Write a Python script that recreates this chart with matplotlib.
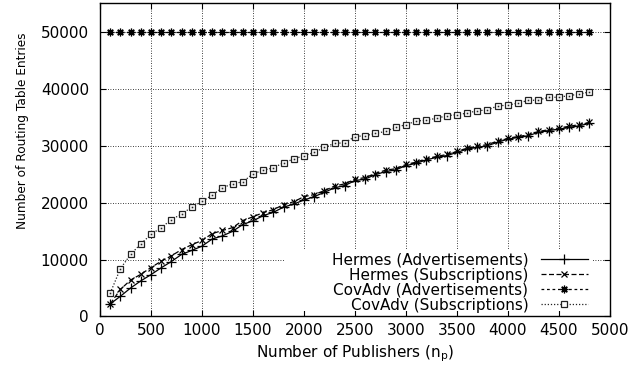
import matplotlib
matplotlib.use("Agg")
from matplotlib import pyplot as plt
from matplotlib.patches import Rectangle

plt.rcParams['font.family'] = ['DejaVu Sans']

n_publishers = [
    100, 200, 300, 400, 500, 600, 700, 800, 900, 1000, 1100, 1200,
    1300, 1400, 1500, 1600, 1700, 1800, 1900, 2000, 2100, 2200, 2300, 2400,
    2500, 2600, 2700, 2800, 2900, 3000, 3100, 3200, 3300, 3400, 3500, 3600,
    3700, 3800, 3900, 4000, 4100, 4200, 4300, 4400, 4500, 4600, 4700, 4800,
]
hermes_adv = [
    2200, 3550, 5000, 6250, 7350, 8550, 9650, 10900, 11600, 12350, 13600, 14150,
    14950, 16150, 16800, 17700, 18300, 19200, 19750, 20450, 21050, 21800, 22600, 23000,
    23850, 24150, 24900, 25450, 25750, 26500, 26900, 27500, 27950, 28250, 28800, 29400,
    29700, 30000, 30600, 31150, 31450, 31750, 32350, 32650, 32900, 33200, 33500, 33900,
]
hermes_sub = [
    2200, 4750, 6400, 7400, 8600, 9700, 10650, 11750, 12600, 13350, 14550, 15100,
    15600, 16850, 17500, 18250, 18750, 19650, 20150, 21050, 21400, 22100, 22900, 23300,
    24100, 24400, 25100, 25700, 25950, 26700, 27100, 27700, 28100, 28450, 29000, 29550,
    29900, 30200, 30800, 31300, 31600, 31900, 32500, 32800, 33100, 33400, 33700, 34100,
]
covadv_adv = [
    50000, 50000, 50000, 50000, 50000, 50000, 50000, 50000, 50000, 50000, 50000, 50000,
    50000, 50000, 50000, 50000, 50000, 50000, 50000, 50000, 50000, 50000, 50000, 50000,
    50000, 50000, 50000, 50000, 50000, 50000, 50000, 50000, 50000, 50000, 50000, 50000,
    50000, 50000, 50000, 50000, 50000, 50000, 50000, 50000, 50000, 50000, 50000, 50000,
]
covadv_sub = [
    4100, 8400, 10900, 12750, 14400, 15600, 17000, 18000, 19200, 20200, 21300, 22600,
    23300, 23650, 25050, 25700, 26100, 27000, 27650, 28250, 28800, 29700, 30400, 30500,
    31600, 31750, 32150, 32500, 33200, 33700, 34300, 34500, 34800, 35250, 35450, 35700,
    36150, 36250, 37000, 37100, 37500, 37950, 38000, 38500, 38500, 38800, 39050, 39450,
]
x_ticks = [0, 500, 1000, 1500, 2000, 2500, 3000, 3500, 4000, 4500, 5000]
y_ticks = [0, 10000, 20000, 30000, 40000, 50000]

fig = plt.figure(figsize=(6.31, 3.71), dpi=100)
ax = fig.add_axes([0.1585, 0.147, 0.808, 0.844])

asterisk = (8, 2, 0)
ax.plot(n_publishers, hermes_adv, color='black', lw=0.9, ls='-',
        marker='+', ms=6.5, mew=0.9, label='Hermes (Advertisements)', zorder=3)
ax.plot(n_publishers, hermes_sub, color='black', lw=0.9, ls=(0, (4, 2)),
        marker='x', ms=4.5, mew=0.9, label='Hermes (Subscriptions)', zorder=3)
ax.plot(n_publishers, covadv_adv, color='black', lw=0.9, ls=(0, (2.2, 2.2)),
        marker=asterisk, ms=5.5, mew=0.9, label='CovAdv (Advertisements)', zorder=3)
ax.plot(n_publishers, covadv_sub, color='#222222', lw=0.9, ls=(0, (1, 1.5)),
        marker='s', ms=5, mew=0.9, mfc='white', label='CovAdv (Subscriptions)', zorder=3)
# small dot in the centre of each box
ax.plot(n_publishers, covadv_sub, ls='none', marker='s', ms=1.2, mew=0,
        color='#222222', zorder=4)

ax.set_xlim(0, 5000)
ax.set_ylim(0, 55000)
ax.set_xticks(x_ticks)
ax.set_yticks(y_ticks)
ax.tick_params(direction='in', length=4, width=0.8, top=True, right=True,
               labelsize=11, pad=5)
ax.tick_params(axis='y', pad=8)
ax.set_axisbelow(True)
ax.grid(True, color='black', lw=0.6, ls=(0, (1, 2)))
for spine in ax.spines.values():
    spine.set_linewidth(1.0)

ax.set_xlabel('Number of Publishers (n$_\\mathregular{p}$)', fontsize=11)
ax.xaxis.set_label_coords(0.5, -0.085)
ax.set_ylabel('Number of Routing Table Entries', fontsize=8.7)
ax.yaxis.set_label_coords(-0.14, 0.592)

# white area behind the key hides the grid
ax.add_patch(Rectangle((0.36, 0.017), 0.607, 0.2, transform=ax.transAxes,
                       facecolor='white', edgecolor='none', zorder=1))
leg = ax.legend(loc='lower right', bbox_to_anchor=(0.957, 0.012), markerfirst=False,
                frameon=False, fontsize=11, borderpad=0, labelspacing=0.0,
                handlelength=3.1, handletextpad=0.8, borderaxespad=0)
leg.set_zorder(5)

fig.savefig('out.png', dpi=100)
